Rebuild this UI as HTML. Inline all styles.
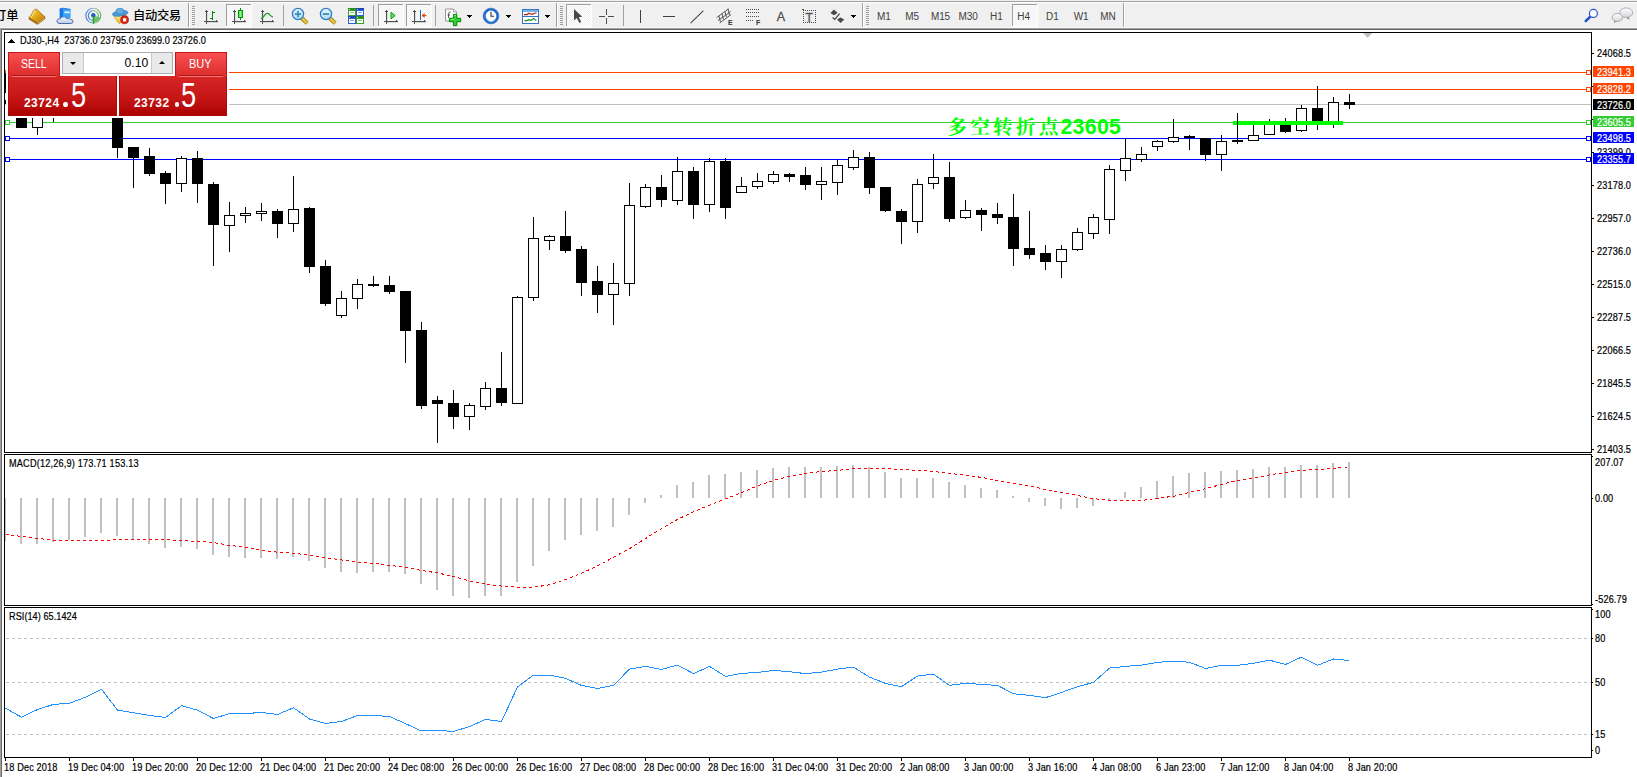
<!DOCTYPE html>
<html lang="zh"><head><meta charset="utf-8"><title>DJ30-,H4</title>
<style>
html,body{margin:0;padding:0}
body{width:1637px;height:777px;overflow:hidden;background:#fff;position:relative;
 font-family:"Liberation Sans","Noto Sans CJK SC",sans-serif}
#tb{position:absolute;left:0;top:0;width:1637px;height:28px;background:#f0f0f0}
#tb .l1{position:absolute;left:0;top:1px;width:100%;height:1px;background:#a0a0a0}
#tb .l2{position:absolute;left:0;top:2px;width:100%;height:1px;background:#fff}
#tb .tt{position:absolute;white-space:pre;display:block}
#tb .tf{top:11px;width:28px;text-align:center;font-size:10px;line-height:12px;color:#404040;letter-spacing:-0.1px}
svg.cv{position:absolute;left:0;top:0}
.t{position:absolute;white-space:pre;display:block;transform:scaleX(0.9);transform-origin:0 0;-webkit-text-stroke:0.2px currentColor}
.bx{position:absolute;left:1593px;width:41px;height:11px}
#lbl{position:absolute;left:0;top:0;white-space:nowrap;color:#00ff00;font-weight:bold;
 font-size:21.3px;line-height:28px;font-family:"Liberation Sans","Noto Serif CJK SC",serif}
#lbl .cn{position:absolute;left:947.3px;top:113.2px;letter-spacing:3.4px;font-size:19.5px;font-weight:700}
#lbl .nm{position:absolute;left:1060.4px;top:113px;letter-spacing:0.32px}
#pbg{position:absolute;left:6px;top:50px;width:223px;height:68px;background:#fff}
#panel{position:absolute;left:8px;top:52px;width:219px;height:64px}
#panel .tab{position:absolute;top:0;width:52px;height:25px;z-index:2;box-sizing:border-box;border:1px solid #c81414;border-bottom:none;
 background:linear-gradient(#f85050,#dc2c2c)}
#panel .tab span{position:absolute;top:4px;color:#fff;font-size:12.2px;line-height:14px;letter-spacing:0;transform-origin:0 0}
#panel .tab i{position:absolute;left:3px;right:3px;bottom:0;height:1px;background:#f07878;z-index:3;border-top:1px solid #b41414}
#panel .low{position:absolute;top:24px;height:40px;box-sizing:border-box;border:1px solid #b40808;border-top:none;
 background:linear-gradient(#d82626,#c41414 60%,#ad0202)}
#panel .spin{position:absolute;left:54px;top:0;width:111px;height:22px;box-sizing:border-box;border:1px solid #abadb3;background:#fff}
#panel .sb{position:absolute;top:0;width:20px;height:20px;background:#e9e9e9}
#panel .sb b{position:absolute;left:7px;width:0;height:0;border-left:3px solid transparent;border-right:3px solid transparent}
#panel .inp{position:absolute;left:20px;top:0;width:69px;height:20px;box-sizing:border-box;border-left:1px solid #c8c8c8;border-right:1px solid #c8c8c8;
 text-align:right;padding-right:2.8px;font-size:12.2px;line-height:20px;color:#000}
#panel .pr{position:absolute;top:44px;color:#fff;font-weight:bold;font-size:12px;line-height:14px;letter-spacing:0.45px}
#panel .dotc{position:absolute;top:50.2px;width:4.4px;height:4.4px;border-radius:50%;background:#fff}
#panel .dot{position:absolute;top:25.5px;color:#fff;font-size:38px;line-height:34px}
#panel .big{position:absolute;top:26px;color:#fff;font-size:35px;line-height:34px;transform:scaleX(0.78);transform-origin:0 0}
</style></head><body>
<div id="tb"><div class="l1"></div><div class="l2"></div>
<svg width="1637" height="28" viewBox="0 0 1637 28" style="position:absolute;left:0;top:0" shape-rendering="crispEdges">
<defs>
<pattern id="dith" width="2" height="2" patternUnits="userSpaceOnUse"><rect width="2" height="2" fill="#f0f0f0"/><rect width="1" height="1" fill="#fff"/><rect x="1" y="1" width="1" height="1" fill="#fff"/></pattern>
<linearGradient id="gold" x1="0" y1="0" x2="1" y2="1"><stop offset="0" stop-color="#fbe25a"/><stop offset="0.5" stop-color="#e0a818"/><stop offset="1" stop-color="#b87410"/></linearGradient>
<linearGradient id="blu" x1="0" y1="0" x2="0" y2="1"><stop offset="0" stop-color="#58b4f4"/><stop offset="1" stop-color="#1868d0"/></linearGradient>
<linearGradient id="cld" x1="0" y1="0" x2="0" y2="1"><stop offset="0" stop-color="#ffffff"/><stop offset="1" stop-color="#b8c8e4"/></linearGradient>
<linearGradient id="grn" x1="0" y1="0" x2="1" y2="0"><stop offset="0" stop-color="#30e030"/><stop offset="0.5" stop-color="#90f890"/><stop offset="1" stop-color="#18b818"/></linearGradient>
<linearGradient id="ring" x1="0" y1="0" x2="1" y2="0"><stop offset="0" stop-color="#4878d8"/><stop offset="0.45" stop-color="#88a8e0"/><stop offset="0.6" stop-color="#a8cca8"/><stop offset="1" stop-color="#68b068"/></linearGradient>
<radialGradient id="sig" cx="0.5" cy="0.5" r="0.5"><stop offset="0" stop-color="#d8f0d8"/><stop offset="1" stop-color="#58a858"/></radialGradient>
<linearGradient id="yel" x1="0" y1="0" x2="0" y2="1"><stop offset="0" stop-color="#fff08a"/><stop offset="1" stop-color="#e8b820"/></linearGradient>
<linearGradient id="lens" x1="0" y1="0" x2="0" y2="1"><stop offset="0" stop-color="#e8f8ff"/><stop offset="1" stop-color="#a8dcf4"/></linearGradient>
<linearGradient id="bub" x1="0" y1="0" x2="0" y2="1"><stop offset="0" stop-color="#ffffff"/><stop offset="1" stop-color="#d4d4dc"/></linearGradient>
</defs>
<g shape-rendering="auto"><path d="M29,17.6 L37.4,22.6 L45,17 L45,18.8 L37.4,24.4 L29,19.2 Z" fill="#b47814" stroke="#94600c" stroke-width="0.6"/><path d="M34.6,9.6 Q36,8.6 37,9.6 L45,17 L37.4,22.6 L29,17.6 Q31.6,15 32.6,12.4 Q33.4,10.4 34.6,9.6 Z" fill="url(#gold)" stroke="#a86c10" stroke-width="0.8"/><path d="M35,10.6 Q33.6,12 33.4,13.6 Q32.6,15.8 30.6,17.4" fill="none" stroke="#fff4a8" stroke-width="1" opacity="0.8"/><path d="M37.6,23.4 L44.6,18" fill="none" stroke="#f0d890" stroke-width="0.6"/></g>
<g shape-rendering="auto"><path d="M59.6,9 L63,8.2 L63,18 L59.6,18 Z" fill="#1478e8"/><path d="M63,8.2 L70.6,9.4 L70.6,18 L63,18 Z" fill="#3ca4f8"/><path d="M59.6,9 L63,8.2 L70.6,9.4" fill="none" stroke="#0c60d0" stroke-width="0.8"/><rect x="64.4" y="11.4" width="5.2" height="1.8" fill="#e8f6ff"/><path d="M59,23.5 Q56.6,23.2 57,20.6 Q57.6,18.4 60.2,18.8 Q61.6,16 64.6,16.8 Q66.4,17.2 66.8,18.8 Q69,17.6 70.4,19.4 Q73,19.2 73,21.6 Q72.8,23.6 70.6,23.5 Z" fill="url(#cld)" stroke="#4c6cb0" stroke-width="1"/></g>
<g shape-rendering="auto"><circle cx="93.3" cy="15.6" r="7.4" fill="#eef4ee" stroke="url(#ring)" stroke-width="1.1"/><circle cx="93.3" cy="15.6" r="5" fill="none" stroke="url(#ring)" stroke-width="1.1"/><path d="M93.3,15.6 L100.4,17.6 A7.4,7.4 0 0 1 94,23 Z" fill="#58b458" opacity="0.75"/><circle cx="93.3" cy="15.2" r="2.2" fill="#2858d0"/><rect x="92.7" y="16" width="1.5" height="7.8" fill="#18a818"/></g>
<g shape-rendering="auto"><path d="M113.6,15.5 L126.6,15.5 L123.5,21 L119,23.6 Z" fill="url(#yel)" stroke="#d09818" stroke-width="0.8"/><ellipse cx="120.2" cy="13.4" rx="7.8" ry="2.7" fill="#4c9cd8" stroke="#2c78b8" stroke-width="0.7" transform="rotate(-8 120.2 13.4)"/><ellipse cx="120" cy="11.2" rx="4" ry="3" fill="#64b0e4" stroke="#2c78b8" stroke-width="0.6"/><circle cx="124.6" cy="19.8" r="4" fill="#d82418" stroke="#b01008" stroke-width="0.6"/><rect x="123" y="18.2" width="3.2" height="3.2" fill="#fff"/></g>
<rect x="188" y="3" width="1" height="25" fill="#a0a0a0"/><rect x="189" y="3" width="1" height="25" fill="#fff"/>
<rect x="192" y="6" width="3" height="1" fill="#a0a0a0"/><rect x="192" y="8" width="3" height="1" fill="#a0a0a0"/><rect x="192" y="10" width="3" height="1" fill="#a0a0a0"/><rect x="192" y="12" width="3" height="1" fill="#a0a0a0"/><rect x="192" y="14" width="3" height="1" fill="#a0a0a0"/><rect x="192" y="16" width="3" height="1" fill="#a0a0a0"/><rect x="192" y="18" width="3" height="1" fill="#a0a0a0"/><rect x="192" y="20" width="3" height="1" fill="#a0a0a0"/><rect x="192" y="22" width="3" height="1" fill="#a0a0a0"/><rect x="192" y="24" width="3" height="1" fill="#a0a0a0"/>
<rect x="206" y="10" width="1" height="14" fill="#505050"/><rect x="205" y="11" width="3" height="1" fill="#505050"/><rect x="204" y="21" width="14" height="1" fill="#505050"/><rect x="216" y="20" width="1" height="3" fill="#505050"/><rect x="207" y="22" width="11" height="1" fill="#d8d8d8"/><rect x="207" y="12" width="1" height="9" fill="#dcdcdc"/>
<rect x="212" y="11" width="1" height="9" fill="#0a8a0a"/><rect x="213" y="12" width="2" height="1" fill="#0a8a0a"/><rect x="210" y="18" width="2" height="1" fill="#0a8a0a"/>
<rect x="226" y="4" width="26" height="23" fill="url(#dith)"/><rect x="226" y="4" width="25" height="1" fill="#a0a0a0"/><rect x="226" y="4" width="1" height="22" fill="#a0a0a0"/><rect x="226" y="26" width="26" height="1" fill="#fff"/><rect x="251" y="4" width="1" height="23" fill="#fff"/>
<rect x="234" y="10" width="1" height="14" fill="#505050"/><rect x="233" y="11" width="3" height="1" fill="#505050"/><rect x="232" y="21" width="14" height="1" fill="#505050"/><rect x="244" y="20" width="1" height="3" fill="#505050"/><rect x="235" y="22" width="11" height="1" fill="#d8d8d8"/><rect x="235" y="12" width="1" height="9" fill="#dcdcdc"/>
<rect x="240" y="8" width="1" height="12" fill="#0a8a0a"/><rect x="238" y="10" width="5" height="8" fill="#089808"/><rect x="239" y="11" width="3" height="6" fill="#58ee58"/><rect x="240" y="11" width="1" height="6" fill="#88f888"/>
<rect x="262" y="10" width="1" height="14" fill="#505050"/><rect x="261" y="11" width="3" height="1" fill="#505050"/><rect x="260" y="21" width="14" height="1" fill="#505050"/><rect x="272" y="20" width="1" height="3" fill="#505050"/><rect x="263" y="22" width="11" height="1" fill="#d8d8d8"/><rect x="263" y="12" width="1" height="9" fill="#dcdcdc"/>
<path d="M261,18.8 Q264,16.6 265.6,14.2 Q267.2,12.6 268.8,13.8 Q270.8,16.2 273,17.2" fill="none" stroke="#209820" stroke-width="1.2" shape-rendering="auto"/>
<rect x="283" y="5" width="1" height="21" fill="#a0a0a0"/>
<g shape-rendering="auto"><path d="M301.6,18 L307.2,23.2" stroke="#a07810" stroke-width="4" stroke-linecap="butt"/><path d="M301.8,18.2 L307,23" stroke="#e8c838" stroke-width="2.4" stroke-linecap="butt"/><circle cx="298" cy="14" r="5.6" fill="url(#lens)" stroke="#2c7cc8" stroke-width="1.3"/><rect x="294.8" y="13.2" width="6.4" height="1.7" fill="#3c88b8"/><rect x="297.15" y="10.8" width="1.7" height="6.4" fill="#3c88b8"/></g>
<g shape-rendering="auto"><path d="M329.6,18 L335.2,23.2" stroke="#a07810" stroke-width="4" stroke-linecap="butt"/><path d="M329.8,18.2 L335,23" stroke="#e8c838" stroke-width="2.4" stroke-linecap="butt"/><circle cx="326" cy="14" r="5.6" fill="url(#lens)" stroke="#2c7cc8" stroke-width="1.3"/><rect x="322.8" y="13.2" width="6.4" height="1.7" fill="#3c88b8"/></g>
<rect x="348" y="8" width="8" height="8" fill="#3aa028"/><rect x="348" y="8" width="8" height="2" fill="#2c8c1c"/><rect x="349" y="11" width="6" height="4" fill="#fff"/><rect x="350" y="12" width="4" height="1" fill="#3aa028" opacity="0.55"/><rect x="349" y="9" width="1" height="1" fill="#fff" opacity="0.7"/>
<rect x="356" y="8" width="8" height="8" fill="#2c64d4"/><rect x="356" y="8" width="8" height="2" fill="#1c48b8"/><rect x="357" y="11" width="6" height="4" fill="#fff"/><rect x="358" y="12" width="4" height="1" fill="#2c64d4" opacity="0.55"/><rect x="357" y="9" width="1" height="1" fill="#fff" opacity="0.7"/>
<rect x="348" y="16" width="8" height="8" fill="#2c64d4"/><rect x="348" y="16" width="8" height="2" fill="#1c48b8"/><rect x="349" y="19" width="6" height="4" fill="#fff"/><rect x="350" y="20" width="4" height="1" fill="#2c64d4" opacity="0.55"/><rect x="349" y="17" width="1" height="1" fill="#fff" opacity="0.7"/>
<rect x="356" y="16" width="8" height="8" fill="#3aa028"/><rect x="356" y="16" width="8" height="2" fill="#2c8c1c"/><rect x="357" y="19" width="6" height="4" fill="#fff"/><rect x="358" y="20" width="4" height="1" fill="#3aa028" opacity="0.55"/><rect x="357" y="17" width="1" height="1" fill="#fff" opacity="0.7"/>
<rect x="373" y="5" width="1" height="21" fill="#a0a0a0"/>
<rect x="378" y="4" width="26" height="23" fill="url(#dith)"/><rect x="378" y="4" width="25" height="1" fill="#a0a0a0"/><rect x="378" y="4" width="1" height="22" fill="#a0a0a0"/><rect x="378" y="26" width="26" height="1" fill="#fff"/><rect x="403" y="4" width="1" height="23" fill="#fff"/>
<rect x="386" y="10" width="1" height="14" fill="#505050"/><rect x="385" y="11" width="3" height="1" fill="#505050"/><rect x="384" y="21" width="14" height="1" fill="#505050"/><rect x="396" y="20" width="1" height="3" fill="#505050"/><rect x="387" y="22" width="11" height="1" fill="#d8d8d8"/><rect x="387" y="12" width="1" height="9" fill="#dcdcdc"/>
<polygon points="391,12.2 395.2,15.6 391,19" fill="#58e058" stroke="#12a012" stroke-width="1" shape-rendering="auto"/>
<rect x="406" y="4" width="26" height="23" fill="url(#dith)"/><rect x="406" y="4" width="25" height="1" fill="#a0a0a0"/><rect x="406" y="4" width="1" height="22" fill="#a0a0a0"/><rect x="406" y="26" width="26" height="1" fill="#fff"/><rect x="431" y="4" width="1" height="23" fill="#fff"/>
<rect x="414" y="10" width="1" height="14" fill="#505050"/><rect x="413" y="11" width="3" height="1" fill="#505050"/><rect x="412" y="21" width="14" height="1" fill="#505050"/><rect x="424" y="20" width="1" height="3" fill="#505050"/><rect x="415" y="22" width="11" height="1" fill="#d8d8d8"/><rect x="415" y="12" width="1" height="9" fill="#dcdcdc"/>
<rect x="420" y="10" width="1" height="10" fill="#1c68b0"/>
<g shape-rendering="auto"><path d="M422,15.5 L426.5,15.5" stroke="#d84808" stroke-width="1.2"/><polygon points="421.6,15.5 424.6,13 424.6,18" fill="#d84808"/></g>
<rect x="435" y="5" width="1" height="21" fill="#a0a0a0"/>
<g shape-rendering="auto"><path d="M445.5,9 L453.5,9 L456.5,12 L456.5,21 L445.5,21 Z" fill="#fcfcfc" stroke="#8c8c8c" stroke-width="0.9"/><path d="M453.5,9 L453.5,12 L456.5,12" fill="#e4e4e4" stroke="#8c8c8c" stroke-width="0.7"/><path d="M450.4,12 Q448.6,12 448.6,13.6 L448.6,18" fill="none" stroke="#404040" stroke-width="0.9"/><path d="M447.6,15 L450,15" stroke="#404040" stroke-width="0.8"/><path d="M453.4,14.4 L456.8,14.4 L456.8,18.3 L460.7,18.3 L460.7,21.7 L456.8,21.7 L456.8,25.6 L453.4,25.6 L453.4,21.7 L449.4,21.7 L449.4,18.3 L453.4,18.3 Z" fill="#2cd42c" stroke="#0a840a" stroke-width="1"/><path d="M454.4,15.6 L455.8,15.6 M450.6,19.4 L453.8,19.4" stroke="#b0ffb0" stroke-width="0.8"/></g>
<rect x="467" y="15" width="5" height="1" fill="#000"/><rect x="468" y="16" width="3" height="1" fill="#000"/><rect x="469" y="17" width="1" height="1" fill="#000"/>
<g shape-rendering="auto"><circle cx="491" cy="16" r="6.6" fill="#fdfdfd" stroke="#1c6cd0" stroke-width="2.4"/><circle cx="491" cy="16" r="7.9" fill="none" stroke="#0c4ca8" stroke-width="0.5"/><path d="M491,11.8 L491,16.2 L494,16.2" fill="none" stroke="#303030" stroke-width="1.1"/><path d="M487,19.6 A5,5 0 0 0 495,19.6" fill="none" stroke="#9cc4ec" stroke-width="1"/></g>
<rect x="506" y="15" width="5" height="1" fill="#000"/><rect x="507" y="16" width="3" height="1" fill="#000"/><rect x="508" y="17" width="1" height="1" fill="#000"/>
<rect x="522" y="9" width="16" height="14" fill="#fff" stroke="#3474c4" stroke-width="1" transform="translate(0.5,0.5)"/><rect x="523" y="10" width="15" height="2" fill="#7cb4ec"/><rect x="523" y="16" width="15" height="1" fill="#3474c4"/><path d="M524,14.6 L527,14.6 L529,13.2 L531,14.2 L533,14.2 L535,13 L536.6,13" fill="none" stroke="#a82010" stroke-width="1.2" shape-rendering="auto"/><path d="M524.6,20.6 L527,20.6 L529,19.6 L531,20.4 L533.6,18.4 L536.4,20.6" fill="none" stroke="#109010" stroke-width="1.2" shape-rendering="auto"/>
<rect x="545" y="15" width="5" height="1" fill="#000"/><rect x="546" y="16" width="3" height="1" fill="#000"/><rect x="547" y="17" width="1" height="1" fill="#000"/>
<rect x="556" y="3" width="1" height="25" fill="#a0a0a0"/><rect x="557" y="3" width="1" height="25" fill="#fff"/>
<rect x="560" y="6" width="3" height="1" fill="#a0a0a0"/><rect x="560" y="8" width="3" height="1" fill="#a0a0a0"/><rect x="560" y="10" width="3" height="1" fill="#a0a0a0"/><rect x="560" y="12" width="3" height="1" fill="#a0a0a0"/><rect x="560" y="14" width="3" height="1" fill="#a0a0a0"/><rect x="560" y="16" width="3" height="1" fill="#a0a0a0"/><rect x="560" y="18" width="3" height="1" fill="#a0a0a0"/><rect x="560" y="20" width="3" height="1" fill="#a0a0a0"/><rect x="560" y="22" width="3" height="1" fill="#a0a0a0"/><rect x="560" y="24" width="3" height="1" fill="#a0a0a0"/>
<rect x="566" y="4" width="26" height="23" fill="url(#dith)"/><rect x="566" y="4" width="25" height="1" fill="#a0a0a0"/><rect x="566" y="4" width="1" height="22" fill="#a0a0a0"/><rect x="566" y="26" width="26" height="1" fill="#fff"/><rect x="591" y="4" width="1" height="23" fill="#fff"/>
<polygon points="574,9 574,20.4 576.8,18 579.4,23 581.2,22 578.8,17.2 582.2,16.8" fill="#484848" shape-rendering="auto"/>
<rect x="599" y="16" width="6" height="1" fill="#505050"/><rect x="608" y="16" width="6" height="1" fill="#505050"/><rect x="606" y="9" width="1" height="6" fill="#505050"/><rect x="606" y="18" width="1" height="6" fill="#505050"/>
<rect x="623" y="5" width="1" height="21" fill="#a0a0a0"/>
<rect x="640" y="10" width="1" height="13" fill="#404040"/>
<rect x="663" y="16" width="12" height="1" fill="#404040"/>
<path d="M690.6,23.2 L703.4,10.6" stroke="#484848" stroke-width="1.1" shape-rendering="auto"/>
<g shape-rendering="auto" stroke="#484848" stroke-width="0.9" fill="none"><path d="M716.6,17.6 L728.4,9"/><path d="M718,20.6 L730.6,11.6"/><path d="M719.6,23 L731,14.6"/><path d="M719,16 L720.4,21.6 M722,13.8 L723.4,19.4 M725,11.6 L726.4,17.2 M728,8.6 L729.4,15"/></g>
<rect x="746" y="9" width="1" height="1" fill="#484848"/>
<rect x="748" y="9" width="1" height="1" fill="#484848"/>
<rect x="750" y="9" width="1" height="1" fill="#484848"/>
<rect x="752" y="9" width="1" height="1" fill="#484848"/>
<rect x="754" y="9" width="1" height="1" fill="#484848"/>
<rect x="756" y="9" width="1" height="1" fill="#484848"/>
<rect x="758" y="9" width="1" height="1" fill="#484848"/>
<rect x="746" y="12" width="1" height="1" fill="#484848"/>
<rect x="748" y="12" width="1" height="1" fill="#484848"/>
<rect x="750" y="12" width="1" height="1" fill="#484848"/>
<rect x="752" y="12" width="1" height="1" fill="#484848"/>
<rect x="754" y="12" width="1" height="1" fill="#484848"/>
<rect x="756" y="12" width="1" height="1" fill="#484848"/>
<rect x="758" y="12" width="1" height="1" fill="#484848"/>
<rect x="746" y="16" width="1" height="1" fill="#484848"/>
<rect x="748" y="16" width="1" height="1" fill="#484848"/>
<rect x="750" y="16" width="1" height="1" fill="#484848"/>
<rect x="752" y="16" width="1" height="1" fill="#484848"/>
<rect x="754" y="16" width="1" height="1" fill="#484848"/>
<rect x="756" y="16" width="1" height="1" fill="#484848"/>
<rect x="758" y="16" width="1" height="1" fill="#484848"/>
<rect x="746" y="20" width="1" height="1" fill="#484848"/>
<rect x="748" y="20" width="1" height="1" fill="#484848"/>
<rect x="750" y="20" width="1" height="1" fill="#484848"/>
<rect x="752" y="20" width="1" height="1" fill="#484848"/>
<rect x="803" y="10" width="1" height="1" fill="#484848"/><rect x="803" y="22" width="1" height="1" fill="#484848"/>
<rect x="805" y="10" width="1" height="1" fill="#484848"/><rect x="805" y="22" width="1" height="1" fill="#484848"/>
<rect x="807" y="10" width="1" height="1" fill="#484848"/><rect x="807" y="22" width="1" height="1" fill="#484848"/>
<rect x="809" y="10" width="1" height="1" fill="#484848"/><rect x="809" y="22" width="1" height="1" fill="#484848"/>
<rect x="811" y="10" width="1" height="1" fill="#484848"/><rect x="811" y="22" width="1" height="1" fill="#484848"/>
<rect x="813" y="10" width="1" height="1" fill="#484848"/><rect x="813" y="22" width="1" height="1" fill="#484848"/>
<rect x="815" y="10" width="1" height="1" fill="#484848"/><rect x="815" y="22" width="1" height="1" fill="#484848"/>
<rect x="803" y="10" width="1" height="1" fill="#484848"/><rect x="815" y="10" width="1" height="1" fill="#484848"/>
<rect x="803" y="12" width="1" height="1" fill="#484848"/><rect x="815" y="12" width="1" height="1" fill="#484848"/>
<rect x="803" y="14" width="1" height="1" fill="#484848"/><rect x="815" y="14" width="1" height="1" fill="#484848"/>
<rect x="803" y="16" width="1" height="1" fill="#484848"/><rect x="815" y="16" width="1" height="1" fill="#484848"/>
<rect x="803" y="18" width="1" height="1" fill="#484848"/><rect x="815" y="18" width="1" height="1" fill="#484848"/>
<rect x="803" y="20" width="1" height="1" fill="#484848"/><rect x="815" y="20" width="1" height="1" fill="#484848"/>
<rect x="803" y="22" width="1" height="1" fill="#484848"/><rect x="815" y="22" width="1" height="1" fill="#484848"/>
<rect x="802" y="9" width="2" height="1" fill="#484848"/>
<g shape-rendering="auto" fill="#484848"><polygon points="834,9.6 837.6,13 834,15.2 830.4,13"/><polygon points="840.6,23 837,19.4 840.6,17.6 844.2,19.4"/><path d="M832.6,17.4 L834.8,19.4 L839.6,13.6" fill="none" stroke="#484848" stroke-width="1.3"/></g>
<rect x="851" y="15" width="5" height="1" fill="#000"/><rect x="852" y="16" width="3" height="1" fill="#000"/><rect x="853" y="17" width="1" height="1" fill="#000"/>
<rect x="862" y="3" width="1" height="25" fill="#a0a0a0"/><rect x="863" y="3" width="1" height="25" fill="#fff"/>
<rect x="866" y="6" width="3" height="1" fill="#a0a0a0"/><rect x="866" y="8" width="3" height="1" fill="#a0a0a0"/><rect x="866" y="10" width="3" height="1" fill="#a0a0a0"/><rect x="866" y="12" width="3" height="1" fill="#a0a0a0"/><rect x="866" y="14" width="3" height="1" fill="#a0a0a0"/><rect x="866" y="16" width="3" height="1" fill="#a0a0a0"/><rect x="866" y="18" width="3" height="1" fill="#a0a0a0"/><rect x="866" y="20" width="3" height="1" fill="#a0a0a0"/><rect x="866" y="22" width="3" height="1" fill="#a0a0a0"/><rect x="866" y="24" width="3" height="1" fill="#a0a0a0"/>
<rect x="1012" y="4" width="26" height="23" fill="url(#dith)"/><rect x="1012" y="4" width="25" height="1" fill="#a0a0a0"/><rect x="1012" y="4" width="1" height="22" fill="#a0a0a0"/><rect x="1012" y="26" width="26" height="1" fill="#fff"/><rect x="1037" y="4" width="1" height="23" fill="#fff"/>
<rect x="1123" y="3" width="1" height="25" fill="#a0a0a0"/><rect x="1124" y="3" width="1" height="25" fill="#fff"/>
<g shape-rendering="auto"><path d="M1590.6,16.4 L1585.8,21" stroke="#2454d0" stroke-width="2.6" stroke-linecap="round"/><circle cx="1593.4" cy="13.4" r="4" fill="#fff" stroke="#2454d0" stroke-width="1.2"/></g>
<g shape-rendering="auto"><path d="M1628.4,17 L1629.6,19.8 L1626,17.4 Z" fill="#686868"/><ellipse cx="1626.2" cy="12.7" rx="6.5" ry="4.8" fill="url(#bub)" stroke="#a4a4a4" stroke-width="0.9"/><path d="M1614.6,20.6 L1614,23 L1617,21.2 Z" fill="#686868"/><ellipse cx="1617.3" cy="17.5" rx="5.2" ry="4" fill="url(#bub)" stroke="#a4a4a4" stroke-width="0.9"/></g>
</svg>
<span class="tt" style="left:-6px;top:7.6px;font-size:12.3px;line-height:16px;color:#000;font-weight:500">订单</span>
<span class="tt" style="left:133px;top:7.8px;font-size:12.3px;line-height:16px;color:#000;letter-spacing:-0.35px;font-weight:500">自动交易</span>
<span class="tt" style="left:728px;top:19px;font-size:7px;line-height:8px;color:#303030;font-weight:bold">E</span>
<span class="tt" style="left:756px;top:19px;font-size:7px;line-height:8px;color:#303030;font-weight:bold">F</span>
<span class="tt" style="left:776.8px;top:10.3px;font-size:12.5px;line-height:14px;color:#505050;-webkit-text-stroke:0.3px #505050">A</span>
<span class="tt" style="left:805.4px;top:11px;font-size:12px;line-height:14px;color:#505050;-webkit-text-stroke:0.3px #505050">T</span>
<span class="tt tf" style="left:869.8px">M1</span>
<span class="tt tf" style="left:898.1px">M5</span>
<span class="tt tf" style="left:926.5px">M15</span>
<span class="tt tf" style="left:954.2px">M30</span>
<span class="tt tf" style="left:982.4px">H1</span>
<span class="tt tf" style="left:1009.6px">H4</span>
<span class="tt tf" style="left:1038.4px">D1</span>
<span class="tt tf" style="left:1067.1px">W1</span>
<span class="tt tf" style="left:1094.0px">MN</span>
</div>
<svg class="cv" width="1637" height="777" viewBox="0 0 1637 777" shape-rendering="crispEdges">
<rect x="0" y="27" width="1637" height="1" fill="#f9f9f9"/>
<rect x="0" y="28" width="1637" height="1" fill="#a0a0a0"/>
<rect x="0" y="29" width="1637" height="1" fill="#696969"/>
<rect x="0" y="28" width="1" height="749" fill="#a0a0a0"/>
<rect x="1" y="29" width="1" height="748" fill="#696969"/>
<rect x="4" y="32" width="1588" height="1" fill="#000"/>
<rect x="4" y="32" width="1" height="421" fill="#000"/>
<rect x="4" y="452" width="1588" height="1" fill="#000"/>
<rect x="4" y="454" width="1588" height="1" fill="#000"/>
<rect x="4" y="454" width="1" height="152" fill="#000"/>
<rect x="4" y="605" width="1588" height="1" fill="#000"/>
<rect x="4" y="607" width="1588" height="1" fill="#000"/>
<rect x="4" y="607" width="1" height="151" fill="#000"/>
<rect x="4" y="757" width="1588" height="1" fill="#000"/>
<rect x="1591" y="32" width="1" height="421" fill="#000"/>
<rect x="1591" y="454" width="1" height="152" fill="#000"/>
<rect x="1591" y="607" width="1" height="151" fill="#000"/>
<rect x="1592" y="53" width="2" height="1" fill="#000"/>
<rect x="1592" y="86" width="2" height="1" fill="#000"/>
<rect x="1592" y="119" width="2" height="1" fill="#000"/>
<rect x="1592" y="152" width="2" height="1" fill="#000"/>
<rect x="1592" y="185" width="2" height="1" fill="#000"/>
<rect x="1592" y="218" width="2" height="1" fill="#000"/>
<rect x="1592" y="251" width="2" height="1" fill="#000"/>
<rect x="1592" y="284" width="2" height="1" fill="#000"/>
<rect x="1592" y="317" width="2" height="1" fill="#000"/>
<rect x="1592" y="350" width="2" height="1" fill="#000"/>
<rect x="1592" y="383" width="2" height="1" fill="#000"/>
<rect x="1592" y="416" width="2" height="1" fill="#000"/>
<rect x="1592" y="449" width="2" height="1" fill="#000"/>
<rect x="1592" y="456" width="1" height="1" fill="#000"/>
<rect x="1592" y="498" width="1" height="1" fill="#000"/>
<rect x="1592" y="604" width="1" height="1" fill="#000"/>
<rect x="1592" y="609" width="1" height="1" fill="#000"/>
<rect x="1592" y="638" width="1" height="1" fill="#000"/>
<rect x="1592" y="682" width="1" height="1" fill="#000"/>
<rect x="1592" y="734" width="1" height="1" fill="#000"/>
<rect x="1592" y="750" width="1" height="1" fill="#000"/>
<rect x="5" y="758" width="1" height="3" fill="#000"/>
<rect x="69" y="758" width="1" height="3" fill="#000"/>
<rect x="133" y="758" width="1" height="3" fill="#000"/>
<rect x="197" y="758" width="1" height="3" fill="#000"/>
<rect x="261" y="758" width="1" height="3" fill="#000"/>
<rect x="325" y="758" width="1" height="3" fill="#000"/>
<rect x="389" y="758" width="1" height="3" fill="#000"/>
<rect x="453" y="758" width="1" height="3" fill="#000"/>
<rect x="517" y="758" width="1" height="3" fill="#000"/>
<rect x="581" y="758" width="1" height="3" fill="#000"/>
<rect x="645" y="758" width="1" height="3" fill="#000"/>
<rect x="709" y="758" width="1" height="3" fill="#000"/>
<rect x="773" y="758" width="1" height="3" fill="#000"/>
<rect x="837" y="758" width="1" height="3" fill="#000"/>
<rect x="901" y="758" width="1" height="3" fill="#000"/>
<rect x="965" y="758" width="1" height="3" fill="#000"/>
<rect x="1029" y="758" width="1" height="3" fill="#000"/>
<rect x="1093" y="758" width="1" height="3" fill="#000"/>
<rect x="1157" y="758" width="1" height="3" fill="#000"/>
<rect x="1221" y="758" width="1" height="3" fill="#000"/>
<rect x="1285" y="758" width="1" height="3" fill="#000"/>
<rect x="1349" y="758" width="1" height="3" fill="#000"/>
<polygon points="1363,33 1372.4,33 1367.7,38" fill="#c0c0c0" shape-rendering="auto"/>
<rect x="5" y="72" width="1586" height="1" fill="#ff4500"/>
<rect x="5" y="89" width="1586" height="1" fill="#ff4500"/>
<rect x="5" y="104" width="1586" height="1" fill="#c0c0c0"/>
<rect x="5" y="122" width="1586" height="1" fill="#32cd32"/>
<rect x="5" y="138" width="1586" height="1" fill="#0000ff"/>
<rect x="5" y="159" width="1586" height="1" fill="#0000ff"/>
<rect x="21" y="100" width="1" height="28" fill="#000"/>
<rect x="16" y="100" width="11" height="28" fill="#000"/>
<rect x="37" y="100" width="1" height="35" fill="#000"/>
<rect x="32" y="100" width="11" height="28" fill="#000"/>
<rect x="33" y="101" width="9" height="26" fill="#fff"/>
<rect x="53" y="100" width="1" height="22" fill="#000"/>
<rect x="48" y="100" width="11" height="14" fill="#000"/>
<rect x="117" y="100" width="1" height="58" fill="#000"/>
<rect x="112" y="100" width="11" height="48" fill="#000"/>
<rect x="133" y="147" width="1" height="41" fill="#000"/>
<rect x="128" y="147" width="11" height="11" fill="#000"/>
<rect x="149" y="148" width="1" height="28" fill="#000"/>
<rect x="144" y="156" width="11" height="18" fill="#000"/>
<rect x="165" y="171" width="1" height="33" fill="#000"/>
<rect x="160" y="173" width="11" height="11" fill="#000"/>
<rect x="181" y="156" width="1" height="36" fill="#000"/>
<rect x="176" y="158" width="11" height="26" fill="#000"/>
<rect x="177" y="159" width="9" height="24" fill="#fff"/>
<rect x="197" y="151" width="1" height="52" fill="#000"/>
<rect x="192" y="158" width="11" height="26" fill="#000"/>
<rect x="213" y="182" width="1" height="84" fill="#000"/>
<rect x="208" y="184" width="11" height="41" fill="#000"/>
<rect x="229" y="202" width="1" height="50" fill="#000"/>
<rect x="224" y="215" width="11" height="11" fill="#000"/>
<rect x="225" y="216" width="9" height="9" fill="#fff"/>
<rect x="245" y="207" width="1" height="16" fill="#000"/>
<rect x="240" y="213" width="11" height="3" fill="#000"/>
<rect x="241" y="214" width="9" height="1" fill="#fff"/>
<rect x="261" y="203" width="1" height="18" fill="#000"/>
<rect x="256" y="211" width="11" height="3" fill="#000"/>
<rect x="257" y="212" width="9" height="1" fill="#fff"/>
<rect x="277" y="209" width="1" height="29" fill="#000"/>
<rect x="272" y="211" width="11" height="13" fill="#000"/>
<rect x="293" y="176" width="1" height="56" fill="#000"/>
<rect x="288" y="209" width="11" height="15" fill="#000"/>
<rect x="289" y="210" width="9" height="13" fill="#fff"/>
<rect x="309" y="207" width="1" height="66" fill="#000"/>
<rect x="304" y="208" width="11" height="59" fill="#000"/>
<rect x="325" y="260" width="1" height="46" fill="#000"/>
<rect x="320" y="266" width="11" height="38" fill="#000"/>
<rect x="341" y="291" width="1" height="27" fill="#000"/>
<rect x="336" y="298" width="11" height="18" fill="#000"/>
<rect x="337" y="299" width="9" height="16" fill="#fff"/>
<rect x="357" y="279" width="1" height="30" fill="#000"/>
<rect x="352" y="284" width="11" height="15" fill="#000"/>
<rect x="353" y="285" width="9" height="13" fill="#fff"/>
<rect x="373" y="276" width="1" height="11" fill="#000"/>
<rect x="368" y="284" width="11" height="2" fill="#000"/>
<rect x="389" y="276" width="1" height="18" fill="#000"/>
<rect x="384" y="285" width="11" height="7" fill="#000"/>
<rect x="405" y="291" width="1" height="72" fill="#000"/>
<rect x="400" y="291" width="11" height="40" fill="#000"/>
<rect x="421" y="322" width="1" height="87" fill="#000"/>
<rect x="416" y="330" width="11" height="76" fill="#000"/>
<rect x="437" y="396" width="1" height="47" fill="#000"/>
<rect x="432" y="400" width="11" height="4" fill="#000"/>
<rect x="453" y="390" width="1" height="39" fill="#000"/>
<rect x="448" y="403" width="11" height="14" fill="#000"/>
<rect x="469" y="403" width="1" height="27" fill="#000"/>
<rect x="464" y="405" width="11" height="12" fill="#000"/>
<rect x="465" y="406" width="9" height="10" fill="#fff"/>
<rect x="485" y="382" width="1" height="28" fill="#000"/>
<rect x="480" y="388" width="11" height="19" fill="#000"/>
<rect x="481" y="389" width="9" height="17" fill="#fff"/>
<rect x="501" y="352" width="1" height="54" fill="#000"/>
<rect x="496" y="388" width="11" height="15" fill="#000"/>
<rect x="517" y="296" width="1" height="108" fill="#000"/>
<rect x="512" y="297" width="11" height="107" fill="#000"/>
<rect x="513" y="298" width="9" height="105" fill="#fff"/>
<rect x="533" y="217" width="1" height="84" fill="#000"/>
<rect x="528" y="238" width="11" height="60" fill="#000"/>
<rect x="529" y="239" width="9" height="58" fill="#fff"/>
<rect x="549" y="235" width="1" height="15" fill="#000"/>
<rect x="544" y="236" width="11" height="5" fill="#000"/>
<rect x="545" y="237" width="9" height="3" fill="#fff"/>
<rect x="565" y="211" width="1" height="42" fill="#000"/>
<rect x="560" y="236" width="11" height="15" fill="#000"/>
<rect x="581" y="246" width="1" height="50" fill="#000"/>
<rect x="576" y="249" width="11" height="34" fill="#000"/>
<rect x="597" y="266" width="1" height="47" fill="#000"/>
<rect x="592" y="281" width="11" height="14" fill="#000"/>
<rect x="613" y="263" width="1" height="62" fill="#000"/>
<rect x="608" y="283" width="11" height="12" fill="#000"/>
<rect x="609" y="284" width="9" height="10" fill="#fff"/>
<rect x="629" y="183" width="1" height="113" fill="#000"/>
<rect x="624" y="205" width="11" height="79" fill="#000"/>
<rect x="625" y="206" width="9" height="77" fill="#fff"/>
<rect x="645" y="184" width="1" height="24" fill="#000"/>
<rect x="640" y="187" width="11" height="20" fill="#000"/>
<rect x="641" y="188" width="9" height="18" fill="#fff"/>
<rect x="661" y="175" width="1" height="32" fill="#000"/>
<rect x="656" y="187" width="11" height="13" fill="#000"/>
<rect x="677" y="157" width="1" height="48" fill="#000"/>
<rect x="672" y="171" width="11" height="30" fill="#000"/>
<rect x="673" y="172" width="9" height="28" fill="#fff"/>
<rect x="693" y="167" width="1" height="52" fill="#000"/>
<rect x="688" y="171" width="11" height="34" fill="#000"/>
<rect x="709" y="158" width="1" height="54" fill="#000"/>
<rect x="704" y="161" width="11" height="44" fill="#000"/>
<rect x="705" y="162" width="9" height="42" fill="#fff"/>
<rect x="725" y="158" width="1" height="61" fill="#000"/>
<rect x="720" y="161" width="11" height="47" fill="#000"/>
<rect x="741" y="177" width="1" height="16" fill="#000"/>
<rect x="736" y="186" width="11" height="7" fill="#000"/>
<rect x="737" y="187" width="9" height="5" fill="#fff"/>
<rect x="757" y="173" width="1" height="16" fill="#000"/>
<rect x="752" y="181" width="11" height="6" fill="#000"/>
<rect x="753" y="182" width="9" height="4" fill="#fff"/>
<rect x="773" y="171" width="1" height="13" fill="#000"/>
<rect x="768" y="174" width="11" height="8" fill="#000"/>
<rect x="769" y="175" width="9" height="6" fill="#fff"/>
<rect x="789" y="173" width="1" height="9" fill="#000"/>
<rect x="784" y="174" width="11" height="3" fill="#000"/>
<rect x="805" y="167" width="1" height="23" fill="#000"/>
<rect x="800" y="175" width="11" height="10" fill="#000"/>
<rect x="821" y="167" width="1" height="33" fill="#000"/>
<rect x="816" y="181" width="11" height="4" fill="#000"/>
<rect x="817" y="182" width="9" height="2" fill="#fff"/>
<rect x="837" y="160" width="1" height="35" fill="#000"/>
<rect x="832" y="165" width="11" height="18" fill="#000"/>
<rect x="833" y="166" width="9" height="16" fill="#fff"/>
<rect x="853" y="150" width="1" height="20" fill="#000"/>
<rect x="848" y="157" width="11" height="11" fill="#000"/>
<rect x="849" y="158" width="9" height="9" fill="#fff"/>
<rect x="869" y="152" width="1" height="42" fill="#000"/>
<rect x="864" y="157" width="11" height="31" fill="#000"/>
<rect x="885" y="187" width="1" height="25" fill="#000"/>
<rect x="880" y="187" width="11" height="24" fill="#000"/>
<rect x="901" y="209" width="1" height="35" fill="#000"/>
<rect x="896" y="211" width="11" height="11" fill="#000"/>
<rect x="917" y="179" width="1" height="54" fill="#000"/>
<rect x="912" y="184" width="11" height="38" fill="#000"/>
<rect x="913" y="185" width="9" height="36" fill="#fff"/>
<rect x="933" y="154" width="1" height="35" fill="#000"/>
<rect x="928" y="177" width="11" height="7" fill="#000"/>
<rect x="929" y="178" width="9" height="5" fill="#fff"/>
<rect x="949" y="162" width="1" height="60" fill="#000"/>
<rect x="944" y="177" width="11" height="42" fill="#000"/>
<rect x="965" y="200" width="1" height="19" fill="#000"/>
<rect x="960" y="210" width="11" height="8" fill="#000"/>
<rect x="961" y="211" width="9" height="6" fill="#fff"/>
<rect x="981" y="208" width="1" height="23" fill="#000"/>
<rect x="976" y="210" width="11" height="5" fill="#000"/>
<rect x="997" y="203" width="1" height="21" fill="#000"/>
<rect x="992" y="214" width="11" height="4" fill="#000"/>
<rect x="1013" y="194" width="1" height="72" fill="#000"/>
<rect x="1008" y="217" width="11" height="32" fill="#000"/>
<rect x="1029" y="211" width="1" height="48" fill="#000"/>
<rect x="1024" y="248" width="11" height="7" fill="#000"/>
<rect x="1045" y="245" width="1" height="25" fill="#000"/>
<rect x="1040" y="253" width="11" height="9" fill="#000"/>
<rect x="1061" y="245" width="1" height="33" fill="#000"/>
<rect x="1056" y="249" width="11" height="13" fill="#000"/>
<rect x="1057" y="250" width="9" height="11" fill="#fff"/>
<rect x="1077" y="228" width="1" height="23" fill="#000"/>
<rect x="1072" y="232" width="11" height="18" fill="#000"/>
<rect x="1073" y="233" width="9" height="16" fill="#fff"/>
<rect x="1093" y="214" width="1" height="25" fill="#000"/>
<rect x="1088" y="217" width="11" height="17" fill="#000"/>
<rect x="1089" y="218" width="9" height="15" fill="#fff"/>
<rect x="1109" y="165" width="1" height="69" fill="#000"/>
<rect x="1104" y="169" width="11" height="51" fill="#000"/>
<rect x="1105" y="170" width="9" height="49" fill="#fff"/>
<rect x="1125" y="138" width="1" height="43" fill="#000"/>
<rect x="1120" y="158" width="11" height="13" fill="#000"/>
<rect x="1121" y="159" width="9" height="11" fill="#fff"/>
<rect x="1141" y="147" width="1" height="15" fill="#000"/>
<rect x="1136" y="154" width="11" height="6" fill="#000"/>
<rect x="1137" y="155" width="9" height="4" fill="#fff"/>
<rect x="1157" y="140" width="1" height="11" fill="#000"/>
<rect x="1152" y="141" width="11" height="6" fill="#000"/>
<rect x="1153" y="142" width="9" height="4" fill="#fff"/>
<rect x="1173" y="119" width="1" height="24" fill="#000"/>
<rect x="1168" y="137" width="11" height="5" fill="#000"/>
<rect x="1169" y="138" width="9" height="3" fill="#fff"/>
<rect x="1189" y="135" width="1" height="15" fill="#000"/>
<rect x="1184" y="136" width="11" height="2" fill="#000"/>
<rect x="1205" y="138" width="1" height="23" fill="#000"/>
<rect x="1200" y="138" width="11" height="17" fill="#000"/>
<rect x="1221" y="135" width="1" height="36" fill="#000"/>
<rect x="1216" y="141" width="11" height="14" fill="#000"/>
<rect x="1217" y="142" width="9" height="12" fill="#fff"/>
<rect x="1237" y="113" width="1" height="31" fill="#000"/>
<rect x="1232" y="140" width="11" height="2" fill="#000"/>
<rect x="1253" y="125" width="1" height="16" fill="#000"/>
<rect x="1248" y="135" width="11" height="6" fill="#000"/>
<rect x="1249" y="136" width="9" height="4" fill="#fff"/>
<rect x="1269" y="119" width="1" height="16" fill="#000"/>
<rect x="1264" y="124" width="11" height="11" fill="#000"/>
<rect x="1265" y="125" width="9" height="9" fill="#fff"/>
<rect x="1285" y="118" width="1" height="15" fill="#000"/>
<rect x="1280" y="123" width="11" height="9" fill="#000"/>
<rect x="1301" y="105" width="1" height="27" fill="#000"/>
<rect x="1296" y="108" width="11" height="23" fill="#000"/>
<rect x="1297" y="109" width="9" height="21" fill="#fff"/>
<rect x="1317" y="86" width="1" height="44" fill="#000"/>
<rect x="1312" y="108" width="11" height="15" fill="#000"/>
<rect x="1333" y="97" width="1" height="31" fill="#000"/>
<rect x="1328" y="102" width="11" height="20" fill="#000"/>
<rect x="1329" y="103" width="9" height="18" fill="#fff"/>
<rect x="1349" y="94" width="1" height="15" fill="#000"/>
<rect x="1344" y="102" width="11" height="3" fill="#000"/>
<rect x="5" y="70" width="5" height="5" fill="#ff4500"/>
<rect x="6" y="71" width="3" height="3" fill="#fff"/>
<rect x="1586" y="70" width="5" height="5" fill="#ff4500"/>
<rect x="1587" y="71" width="3" height="3" fill="#fff"/>
<rect x="5" y="87" width="5" height="5" fill="#ff4500"/>
<rect x="6" y="88" width="3" height="3" fill="#fff"/>
<rect x="1586" y="87" width="5" height="5" fill="#ff4500"/>
<rect x="1587" y="88" width="3" height="3" fill="#fff"/>
<rect x="5" y="120" width="5" height="5" fill="#32cd32"/>
<rect x="6" y="121" width="3" height="3" fill="#fff"/>
<rect x="1586" y="120" width="5" height="5" fill="#32cd32"/>
<rect x="1587" y="121" width="3" height="3" fill="#fff"/>
<rect x="5" y="136" width="5" height="5" fill="#0000ff"/>
<rect x="6" y="137" width="3" height="3" fill="#fff"/>
<rect x="1586" y="136" width="5" height="5" fill="#0000ff"/>
<rect x="1587" y="137" width="3" height="3" fill="#fff"/>
<rect x="5" y="157" width="5" height="5" fill="#0000ff"/>
<rect x="6" y="158" width="3" height="3" fill="#fff"/>
<rect x="1586" y="157" width="5" height="5" fill="#0000ff"/>
<rect x="1587" y="158" width="3" height="3" fill="#fff"/>
<rect x="11" y="39" width="1" height="1" fill="#000"/>
<rect x="10" y="40" width="3" height="1" fill="#000"/>
<rect x="9" y="41" width="5" height="1" fill="#000"/>
<rect x="8" y="42" width="7" height="1" fill="#000"/>
<rect x="1233" y="121" width="110" height="4" fill="#00ff00"/>
<rect x="1237" y="113" width="1" height="31" fill="#000"/>
<rect x="5" y="73" width="1" height="20" fill="#000"/>
<rect x="5" y="100" width="1" height="4" fill="#000"/>
<rect x="5" y="498" width="1" height="43" fill="#c0c0c0"/>
<rect x="20" y="498" width="2" height="46" fill="#c0c0c0"/>
<rect x="36" y="498" width="2" height="46" fill="#c0c0c0"/>
<rect x="52" y="498" width="2" height="44" fill="#c0c0c0"/>
<rect x="68" y="498" width="2" height="42" fill="#c0c0c0"/>
<rect x="84" y="498" width="2" height="39" fill="#c0c0c0"/>
<rect x="100" y="498" width="2" height="35" fill="#c0c0c0"/>
<rect x="116" y="498" width="2" height="38" fill="#c0c0c0"/>
<rect x="132" y="498" width="2" height="41" fill="#c0c0c0"/>
<rect x="148" y="498" width="2" height="46" fill="#c0c0c0"/>
<rect x="164" y="498" width="2" height="50" fill="#c0c0c0"/>
<rect x="180" y="498" width="2" height="49" fill="#c0c0c0"/>
<rect x="196" y="498" width="2" height="51" fill="#c0c0c0"/>
<rect x="212" y="498" width="2" height="57" fill="#c0c0c0"/>
<rect x="228" y="498" width="2" height="59" fill="#c0c0c0"/>
<rect x="244" y="498" width="2" height="60" fill="#c0c0c0"/>
<rect x="260" y="498" width="2" height="60" fill="#c0c0c0"/>
<rect x="276" y="498" width="2" height="61" fill="#c0c0c0"/>
<rect x="292" y="498" width="2" height="59" fill="#c0c0c0"/>
<rect x="308" y="498" width="2" height="63" fill="#c0c0c0"/>
<rect x="324" y="498" width="2" height="70" fill="#c0c0c0"/>
<rect x="340" y="498" width="2" height="74" fill="#c0c0c0"/>
<rect x="356" y="498" width="2" height="75" fill="#c0c0c0"/>
<rect x="372" y="498" width="2" height="74" fill="#c0c0c0"/>
<rect x="388" y="498" width="2" height="74" fill="#c0c0c0"/>
<rect x="404" y="498" width="2" height="76" fill="#c0c0c0"/>
<rect x="420" y="498" width="2" height="86" fill="#c0c0c0"/>
<rect x="436" y="498" width="2" height="92" fill="#c0c0c0"/>
<rect x="452" y="498" width="2" height="98" fill="#c0c0c0"/>
<rect x="468" y="498" width="2" height="100" fill="#c0c0c0"/>
<rect x="484" y="498" width="2" height="98" fill="#c0c0c0"/>
<rect x="500" y="498" width="2" height="98" fill="#c0c0c0"/>
<rect x="516" y="498" width="2" height="84" fill="#c0c0c0"/>
<rect x="532" y="498" width="2" height="68" fill="#c0c0c0"/>
<rect x="548" y="498" width="2" height="53" fill="#c0c0c0"/>
<rect x="564" y="498" width="2" height="42" fill="#c0c0c0"/>
<rect x="580" y="498" width="2" height="37" fill="#c0c0c0"/>
<rect x="596" y="498" width="2" height="33" fill="#c0c0c0"/>
<rect x="612" y="498" width="2" height="29" fill="#c0c0c0"/>
<rect x="628" y="498" width="2" height="17" fill="#c0c0c0"/>
<rect x="644" y="498" width="2" height="5" fill="#c0c0c0"/>
<rect x="660" y="495" width="2" height="3" fill="#c0c0c0"/>
<rect x="676" y="485" width="2" height="13" fill="#c0c0c0"/>
<rect x="692" y="482" width="2" height="16" fill="#c0c0c0"/>
<rect x="708" y="475" width="2" height="23" fill="#c0c0c0"/>
<rect x="724" y="474" width="2" height="24" fill="#c0c0c0"/>
<rect x="740" y="472" width="2" height="26" fill="#c0c0c0"/>
<rect x="756" y="470" width="2" height="28" fill="#c0c0c0"/>
<rect x="772" y="468" width="2" height="30" fill="#c0c0c0"/>
<rect x="788" y="467" width="2" height="31" fill="#c0c0c0"/>
<rect x="804" y="467" width="2" height="31" fill="#c0c0c0"/>
<rect x="820" y="467" width="2" height="31" fill="#c0c0c0"/>
<rect x="836" y="466" width="2" height="32" fill="#c0c0c0"/>
<rect x="852" y="465" width="2" height="33" fill="#c0c0c0"/>
<rect x="868" y="467" width="2" height="31" fill="#c0c0c0"/>
<rect x="884" y="472" width="2" height="26" fill="#c0c0c0"/>
<rect x="900" y="478" width="2" height="20" fill="#c0c0c0"/>
<rect x="916" y="478" width="2" height="20" fill="#c0c0c0"/>
<rect x="932" y="478" width="2" height="20" fill="#c0c0c0"/>
<rect x="948" y="482" width="2" height="16" fill="#c0c0c0"/>
<rect x="964" y="485" width="2" height="13" fill="#c0c0c0"/>
<rect x="980" y="488" width="2" height="10" fill="#c0c0c0"/>
<rect x="996" y="490" width="2" height="8" fill="#c0c0c0"/>
<rect x="1012" y="496" width="2" height="2" fill="#c0c0c0"/>
<rect x="1028" y="498" width="2" height="4" fill="#c0c0c0"/>
<rect x="1044" y="498" width="2" height="8" fill="#c0c0c0"/>
<rect x="1060" y="498" width="2" height="11" fill="#c0c0c0"/>
<rect x="1076" y="498" width="2" height="10" fill="#c0c0c0"/>
<rect x="1092" y="498" width="2" height="8" fill="#c0c0c0"/>
<rect x="1108" y="498" width="2" height="2" fill="#c0c0c0"/>
<rect x="1124" y="492" width="2" height="6" fill="#c0c0c0"/>
<rect x="1140" y="487" width="2" height="11" fill="#c0c0c0"/>
<rect x="1156" y="481" width="2" height="17" fill="#c0c0c0"/>
<rect x="1172" y="476" width="2" height="22" fill="#c0c0c0"/>
<rect x="1188" y="473" width="2" height="25" fill="#c0c0c0"/>
<rect x="1204" y="472" width="2" height="26" fill="#c0c0c0"/>
<rect x="1220" y="471" width="2" height="27" fill="#c0c0c0"/>
<rect x="1236" y="470" width="2" height="28" fill="#c0c0c0"/>
<rect x="1252" y="469" width="2" height="29" fill="#c0c0c0"/>
<rect x="1268" y="467" width="2" height="31" fill="#c0c0c0"/>
<rect x="1284" y="467" width="2" height="31" fill="#c0c0c0"/>
<rect x="1300" y="465" width="2" height="33" fill="#c0c0c0"/>
<rect x="1316" y="465" width="2" height="33" fill="#c0c0c0"/>
<rect x="1332" y="463" width="2" height="35" fill="#c0c0c0"/>
<rect x="1348" y="462" width="2" height="36" fill="#c0c0c0"/>
<polyline points="5.5,534.6 21.5,536.4 37.5,538.4 53.5,540.3 69.5,541.0 85.5,540.6 101.5,540.6 117.5,539.5 133.5,539.5 149.5,539.5 165.5,539.5 181.5,540.6 197.5,541.4 213.5,542.6 229.5,545.4 245.5,547.3 261.5,550.2 277.5,552.2 293.5,553.2 309.5,555.2 325.5,557.7 341.5,559.9 357.5,562.2 373.5,563.4 389.5,565.3 405.5,567.3 421.5,570.5 437.5,572.9 453.5,576.4 469.5,581.1 485.5,584.0 501.5,586.1 517.5,587.2 533.5,587.2 549.5,584.8 565.5,579.6 581.5,573.2 597.5,565.9 613.5,557.3 629.5,548.6 645.5,538.6 661.5,528.6 677.5,519.4 693.5,511.8 709.5,505.1 725.5,498.8 741.5,492.6 757.5,485.9 773.5,480.4 789.5,476.4 805.5,473.3 821.5,471.5 837.5,470.4 853.5,468.7 869.5,468.5 885.5,468.5 901.5,469.5 917.5,470.4 933.5,471.4 949.5,473.4 965.5,475.3 981.5,477.4 997.5,480.4 1013.5,483.3 1029.5,486.0 1045.5,489.5 1061.5,492.2 1077.5,495.6 1093.5,498.6 1109.5,500.6 1125.5,500.6 1141.5,500.6 1157.5,498.2 1173.5,496.3 1189.5,492.3 1205.5,488.7 1221.5,484.4 1237.5,480.4 1253.5,478.0 1269.5,474.9 1285.5,472.5 1301.5,470.4 1317.5,469.5 1333.5,468.5 1347.5,466.9" fill="none" stroke="#ff0000" stroke-width="1" stroke-dasharray="3,3" shape-rendering="crispEdges"/>
<line x1="6" y1="638.5" x2="1591" y2="638.5" stroke="#c0c0c0" stroke-width="1" stroke-dasharray="3,3"/>
<line x1="6" y1="682.5" x2="1591" y2="682.5" stroke="#c0c0c0" stroke-width="1" stroke-dasharray="3,3"/>
<line x1="6" y1="734.5" x2="1591" y2="734.5" stroke="#c0c0c0" stroke-width="1" stroke-dasharray="3,3"/>
<polyline points="5.5,708.2 21.5,717.2 37.5,709.5 53.5,704.4 69.5,703.2 85.5,697.2 101.5,689.2 117.5,710.2 133.5,712.7 149.5,715.5 165.5,717.5 181.5,705.7 197.5,710.2 213.5,718.5 229.5,713.5 245.5,713.5 261.5,712.5 277.5,714.5 293.5,707.7 309.5,719.0 325.5,723.5 341.5,721.5 357.5,715.5 373.5,715.5 389.5,716.5 405.5,723.6 421.5,731.0 437.5,730.2 453.5,731.5 469.5,726.5 485.5,719.5 501.5,721.5 517.5,686.9 533.5,675.1 549.5,675.1 565.5,678.4 581.5,685.4 597.5,688.4 613.5,685.4 629.5,669.1 645.5,666.4 661.5,669.4 677.5,665.1 693.5,673.6 709.5,666.4 725.5,676.4 741.5,673.4 757.5,672.4 773.5,670.4 789.5,671.7 805.5,673.6 821.5,672.1 837.5,669.1 853.5,667.1 869.5,677.1 885.5,683.4 901.5,686.7 917.5,676.1 933.5,674.1 949.5,685.4 965.5,683.2 981.5,684.4 997.5,685.4 1013.5,693.7 1029.5,695.4 1045.5,697.7 1061.5,692.4 1077.5,686.7 1093.5,682.4 1109.5,668.1 1125.5,666.4 1141.5,665.1 1157.5,662.4 1173.5,661.1 1189.5,662.3 1205.5,668.5 1221.5,665.3 1237.5,665.3 1253.5,663.3 1269.5,660.2 1285.5,664.5 1301.5,657.1 1317.5,665.3 1333.5,659.0 1349.5,660.5" fill="none" stroke="#1e90ff" stroke-width="1" shape-rendering="crispEdges"/>
</svg>
<div id="lbl"><span class="cn">多空转折点</span><span class="nm">23605</span></div>
<span class="t" style="left:1597px;top:48.1px;font-size:10.2px;line-height:12.2px;color:#000;letter-spacing:0.14px;font-weight:normal;">24068.5</span>
<span class="t" style="left:1597px;top:147.1px;font-size:10.2px;line-height:12.2px;color:#000;letter-spacing:0.14px;font-weight:normal;">23399.0</span>
<span class="t" style="left:1597px;top:180.1px;font-size:10.2px;line-height:12.2px;color:#000;letter-spacing:0.14px;font-weight:normal;">23178.0</span>
<span class="t" style="left:1597px;top:213.1px;font-size:10.2px;line-height:12.2px;color:#000;letter-spacing:0.14px;font-weight:normal;">22957.0</span>
<span class="t" style="left:1597px;top:246.1px;font-size:10.2px;line-height:12.2px;color:#000;letter-spacing:0.14px;font-weight:normal;">22736.0</span>
<span class="t" style="left:1597px;top:279.1px;font-size:10.2px;line-height:12.2px;color:#000;letter-spacing:0.14px;font-weight:normal;">22515.0</span>
<span class="t" style="left:1597px;top:312.1px;font-size:10.2px;line-height:12.2px;color:#000;letter-spacing:0.14px;font-weight:normal;">22287.5</span>
<span class="t" style="left:1597px;top:345.1px;font-size:10.2px;line-height:12.2px;color:#000;letter-spacing:0.14px;font-weight:normal;">22066.5</span>
<span class="t" style="left:1597px;top:378.1px;font-size:10.2px;line-height:12.2px;color:#000;letter-spacing:0.14px;font-weight:normal;">21845.5</span>
<span class="t" style="left:1597px;top:411.1px;font-size:10.2px;line-height:12.2px;color:#000;letter-spacing:0.14px;font-weight:normal;">21624.5</span>
<span class="t" style="left:1597px;top:444.1px;font-size:10.2px;line-height:12.2px;color:#000;letter-spacing:0.14px;font-weight:normal;">21403.5</span>
<div class="bx" style="top:66px;background:#ff4500"></div>
<span class="t" style="left:1597px;top:67.0px;font-size:10.2px;line-height:12.2px;color:#fff;letter-spacing:0.14px;font-weight:normal;">23941.3</span>
<div class="bx" style="top:83px;background:#ff4500"></div>
<span class="t" style="left:1597px;top:84.0px;font-size:10.2px;line-height:12.2px;color:#fff;letter-spacing:0.14px;font-weight:normal;">23828.2</span>
<div class="bx" style="top:99px;background:#000"></div>
<span class="t" style="left:1597px;top:100.0px;font-size:10.2px;line-height:12.2px;color:#fff;letter-spacing:0.14px;font-weight:normal;">23726.0</span>
<div class="bx" style="top:116px;background:#32cd32"></div>
<span class="t" style="left:1597px;top:117.0px;font-size:10.2px;line-height:12.2px;color:#fff;letter-spacing:0.14px;font-weight:normal;">23605.5</span>
<div class="bx" style="top:132px;background:#0000ff"></div>
<span class="t" style="left:1597px;top:133.0px;font-size:10.2px;line-height:12.2px;color:#fff;letter-spacing:0.14px;font-weight:normal;">23498.5</span>
<div class="bx" style="top:153px;background:#0000ff"></div>
<span class="t" style="left:1597px;top:154.0px;font-size:10.2px;line-height:12.2px;color:#fff;letter-spacing:0.14px;font-weight:normal;">23355.7</span>
<span class="t" style="left:1595px;top:456.8px;font-size:10.2px;line-height:12.2px;color:#000;letter-spacing:0.14px;font-weight:normal;">207.07</span>
<span class="t" style="left:1595px;top:492.8px;font-size:10.2px;line-height:12.2px;color:#000;letter-spacing:0.14px;font-weight:normal;">0.00</span>
<span class="t" style="left:1595px;top:593.8px;font-size:10.2px;line-height:12.2px;color:#000;letter-spacing:0.14px;font-weight:normal;">-526.79</span>
<span class="t" style="left:1595px;top:609.4px;font-size:10.2px;line-height:12.2px;color:#000;letter-spacing:0.14px;font-weight:normal;">100</span>
<span class="t" style="left:1595px;top:633px;font-size:10.2px;line-height:12.2px;color:#000;letter-spacing:0.14px;font-weight:normal;">80</span>
<span class="t" style="left:1595px;top:677px;font-size:10.2px;line-height:12.2px;color:#000;letter-spacing:0.14px;font-weight:normal;">50</span>
<span class="t" style="left:1595px;top:729px;font-size:10.2px;line-height:12.2px;color:#000;letter-spacing:0.14px;font-weight:normal;">15</span>
<span class="t" style="left:1595px;top:745px;font-size:10.2px;line-height:12.2px;color:#000;letter-spacing:0.14px;font-weight:normal;">0</span>
<span class="t" style="left:4.2px;top:761.9px;font-size:10.2px;line-height:12.2px;color:#000;letter-spacing:0.15px;font-weight:normal;">18 Dec 2018</span>
<span class="t" style="left:68.2px;top:761.9px;font-size:10.2px;line-height:12.2px;color:#000;letter-spacing:0.15px;font-weight:normal;">19 Dec 04:00</span>
<span class="t" style="left:132.2px;top:761.9px;font-size:10.2px;line-height:12.2px;color:#000;letter-spacing:0.15px;font-weight:normal;">19 Dec 20:00</span>
<span class="t" style="left:196.2px;top:761.9px;font-size:10.2px;line-height:12.2px;color:#000;letter-spacing:0.15px;font-weight:normal;">20 Dec 12:00</span>
<span class="t" style="left:260.2px;top:761.9px;font-size:10.2px;line-height:12.2px;color:#000;letter-spacing:0.15px;font-weight:normal;">21 Dec 04:00</span>
<span class="t" style="left:324.2px;top:761.9px;font-size:10.2px;line-height:12.2px;color:#000;letter-spacing:0.15px;font-weight:normal;">21 Dec 20:00</span>
<span class="t" style="left:388.2px;top:761.9px;font-size:10.2px;line-height:12.2px;color:#000;letter-spacing:0.15px;font-weight:normal;">24 Dec 08:00</span>
<span class="t" style="left:452.2px;top:761.9px;font-size:10.2px;line-height:12.2px;color:#000;letter-spacing:0.15px;font-weight:normal;">26 Dec 00:00</span>
<span class="t" style="left:516.2px;top:761.9px;font-size:10.2px;line-height:12.2px;color:#000;letter-spacing:0.15px;font-weight:normal;">26 Dec 16:00</span>
<span class="t" style="left:580.2px;top:761.9px;font-size:10.2px;line-height:12.2px;color:#000;letter-spacing:0.15px;font-weight:normal;">27 Dec 08:00</span>
<span class="t" style="left:644.2px;top:761.9px;font-size:10.2px;line-height:12.2px;color:#000;letter-spacing:0.15px;font-weight:normal;">28 Dec 00:00</span>
<span class="t" style="left:708.2px;top:761.9px;font-size:10.2px;line-height:12.2px;color:#000;letter-spacing:0.15px;font-weight:normal;">28 Dec 16:00</span>
<span class="t" style="left:772.2px;top:761.9px;font-size:10.2px;line-height:12.2px;color:#000;letter-spacing:0.15px;font-weight:normal;">31 Dec 04:00</span>
<span class="t" style="left:836.2px;top:761.9px;font-size:10.2px;line-height:12.2px;color:#000;letter-spacing:0.15px;font-weight:normal;">31 Dec 20:00</span>
<span class="t" style="left:900.2px;top:761.9px;font-size:10.2px;line-height:12.2px;color:#000;letter-spacing:0.15px;font-weight:normal;">2 Jan 08:00</span>
<span class="t" style="left:964.2px;top:761.9px;font-size:10.2px;line-height:12.2px;color:#000;letter-spacing:0.15px;font-weight:normal;">3 Jan 00:00</span>
<span class="t" style="left:1028.2px;top:761.9px;font-size:10.2px;line-height:12.2px;color:#000;letter-spacing:0.15px;font-weight:normal;">3 Jan 16:00</span>
<span class="t" style="left:1092.2px;top:761.9px;font-size:10.2px;line-height:12.2px;color:#000;letter-spacing:0.15px;font-weight:normal;">4 Jan 08:00</span>
<span class="t" style="left:1156.2px;top:761.9px;font-size:10.2px;line-height:12.2px;color:#000;letter-spacing:0.15px;font-weight:normal;">6 Jan 23:00</span>
<span class="t" style="left:1220.2px;top:761.9px;font-size:10.2px;line-height:12.2px;color:#000;letter-spacing:0.15px;font-weight:normal;">7 Jan 12:00</span>
<span class="t" style="left:1284.2px;top:761.9px;font-size:10.2px;line-height:12.2px;color:#000;letter-spacing:0.15px;font-weight:normal;">8 Jan 04:00</span>
<span class="t" style="left:1348.2px;top:761.9px;font-size:10.2px;line-height:12.2px;color:#000;letter-spacing:0.15px;font-weight:normal;">8 Jan 20:00</span>
<span class="t" style="left:20px;top:34.5px;font-size:10.2px;line-height:12.2px;color:#000;letter-spacing:0.05px;font-weight:normal;">DJ30-,H4&nbsp; 23736.0 23795.0 23699.0 23726.0</span>
<span class="t" style="left:9px;top:457.5px;font-size:10.2px;line-height:12.2px;color:#000;letter-spacing:0.2px;font-weight:normal;">MACD(12,26,9) 173.71 153.13</span>
<span class="t" style="left:9px;top:610.5px;font-size:10.2px;line-height:12.2px;color:#000;letter-spacing:0.04px;font-weight:normal;">RSI(14) 65.1424</span>

<div id="pbg"></div>
<div id="panel">
  <div class="tab" style="left:0"><span style="left:12px;transform:scaleX(0.86)">SELL</span><i></i></div>
  <div class="tab" style="left:167px"><span style="left:13px;transform:scaleX(0.9)">BUY</span><i></i></div>
  <div class="low" style="left:0;width:109px"></div>
  <div class="low" style="left:111px;width:108px"></div>
  <div class="spin">
    <div class="sb" style="left:0"><b style="border-top:3px solid #000;top:9px"></b></div>
    <div class="inp">0.10</div>
    <div class="sb" style="left:89px"><b style="border-bottom:3px solid #000;top:8px"></b></div>
  </div>
  <span class="pr" style="left:16px">23724</span><b class="dotc" style="left:55.3px"></b><span class="big" style="left:62.5px">5</span>
  <span class="pr" style="left:126px">23732</span><b class="dotc" style="left:166.5px"></b><span class="big" style="left:173px">5</span>
</div>
</body></html>
